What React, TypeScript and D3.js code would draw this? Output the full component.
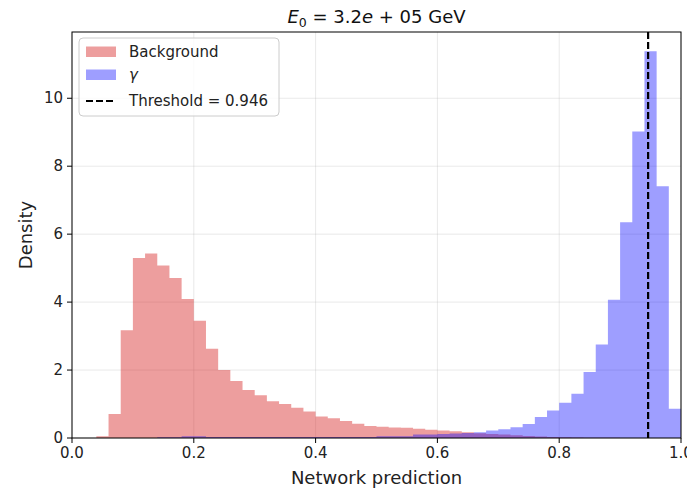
import React from "react";
import * as d3 from "d3";

const BIN_WIDTH = 0.02;
const backgroundDensity = [
  0, 0, 0.05, 0.71, 3.17, 5.3, 5.43, 5.08, 4.71, 4.09,
  3.45, 2.63, 2.0, 1.68, 1.41, 1.26, 1.08, 1.0, 0.89, 0.78,
  0.63, 0.58, 0.5, 0.42, 0.35, 0.33, 0.31, 0.3, 0.27, 0.24,
  0.22, 0.2, 0.17, 0.14, 0.12, 0.1, 0.08, 0.06, 0.045, 0.03,
  0.02, 0.015, 0.01, 0.005, 0.005, 0, 0, 0, 0, 0,
];
const gammaDensity = [
  0, 0, 0, 0, 0, 0, 0, 0.02, 0.02, 0.05,
  0.05, 0.03, 0.03, 0.03, 0.03, 0.03, 0.03, 0.03, 0.03, 0.03,
  0.03, 0.03, 0.03, 0.03, 0.03, 0.05, 0.05, 0.05, 0.1, 0.1,
  0.12, 0.13, 0.15, 0.17, 0.22, 0.26, 0.32, 0.41, 0.62, 0.81,
  1.04, 1.3, 1.94, 2.75, 4.07, 6.35, 9.02, 11.38, 7.41, 0.86,
];
const threshold = 0.946;
const xTicks = [0.0, 0.2, 0.4, 0.6, 0.8, 1.0];
const yTicks = [0, 2, 4, 6, 8, 10];
const legendLabels = ["Background", "γ", "Threshold = 0.946"];

const W = 687;
const H = 490;
const M = { left: 72, right: 681, top: 32, bottom: 438 };
const FONT = "DejaVu Sans, sans-serif";
const RED = "#d62728";
const RED_ALPHA = 0.45;
const BLUE = "#0000ff";
const BLUE_ALPHA = 0.38;
const DASH = "7,3";

export default function App() {
  const x = d3.scaleLinear().domain([0, 1]).range([M.left, M.right]);
  const y = d3.scaleLinear().domain([0, 11.95]).range([M.bottom, M.top]);

  const histPath = (vals: number[]) => {
    const pts = vals.map((v, i) => ({ x0: i * BIN_WIDTH, v }));
    pts.push({ x0: vals.length * BIN_WIDTH, v: vals[vals.length - 1] });
    const area = d3
      .area<{ x0: number; v: number }>()
      .x((d) => x(d.x0))
      .y0(y(0))
      .y1((d) => y(d.v))
      .curve(d3.curveStepAfter);
    return area(pts) || "";
  };

  const fmtX = d3.format(".1f");

  return (
    <svg width={W} height={H} style={{ position: "absolute", left: 0, top: 0 }} fontFamily={FONT}>
      <rect x={0} y={0} width={W} height={H} fill="#fff" />
      {/* grid */}
      <g stroke="#b0b0b0" strokeOpacity={0.35} strokeWidth={0.8}>
        {xTicks.map((t) => (
          <line key={"gx" + t} x1={x(t)} x2={x(t)} y1={M.top} y2={M.bottom} />
        ))}
        {yTicks.map((t) => (
          <line key={"gy" + t} x1={M.left} x2={M.right} y1={y(t)} y2={y(t)} />
        ))}
      </g>
      {/* histograms */}
      <path d={histPath(backgroundDensity)} fill={RED} fillOpacity={RED_ALPHA} />
      <path d={histPath(gammaDensity)} fill={BLUE} fillOpacity={BLUE_ALPHA} />
      {/* threshold */}
      <line
        x1={x(threshold)}
        x2={x(threshold)}
        y1={M.top}
        y2={M.bottom}
        stroke="#000"
        strokeWidth={2.2}
        strokeDasharray={DASH}
      />
      {/* spines */}
      <rect
        x={M.left}
        y={M.top}
        width={M.right - M.left}
        height={M.bottom - M.top}
        fill="none"
        stroke="#000"
        strokeWidth={1}
      />
      {/* x ticks */}
      {xTicks.map((t) => (
        <g key={"xt" + t}>
          <line x1={x(t)} x2={x(t)} y1={M.bottom} y2={M.bottom + 5} stroke="#000" strokeWidth={1} />
          <text x={x(t)} y={M.bottom + 20} textAnchor="middle" fontSize={15} fill="#222">
            {fmtX(t)}
          </text>
        </g>
      ))}
      {/* y ticks */}
      {yTicks.map((t) => (
        <g key={"yt" + t}>
          <line x1={M.left - 5} x2={M.left} y1={y(t)} y2={y(t)} stroke="#000" strokeWidth={1} />
          <text x={M.left - 9} y={y(t) + 5} textAnchor="end" fontSize={15} fill="#222">
            {t}
          </text>
        </g>
      ))}
      {/* axis labels */}
      <text x={(M.left + M.right) / 2} y={484} textAnchor="middle" fontSize={18} fill="#222">
        Network prediction
      </text>
      <text
        transform={`translate(32, ${(M.top + M.bottom) / 2}) rotate(-90)`}
        textAnchor="middle"
        fontSize={18}
        fill="#222"
      >
        Density
      </text>
      {/* title */}
      <text x={(M.left + M.right) / 2} y={23} textAnchor="middle" fontSize={18} fill="#111">
        <tspan fontStyle="italic">E</tspan>
        <tspan fontSize={12.5} dy={4}>0</tspan>
        <tspan dy={-4}> = 3.2</tspan>
        <tspan fontStyle="italic">e</tspan>
        <tspan> + 05 GeV</tspan>
      </text>
      {/* legend */}
      <g>
        <rect x={79} y={38} width={200} height={78} rx={4} fill="#fff" fillOpacity={0.8} stroke="#cccccc" strokeWidth={1} />
        <rect x={86} y={46.5} width={30} height={10.5} fill={RED} fillOpacity={RED_ALPHA} />
        <rect x={86} y={69.5} width={30} height={10.5} fill={BLUE} fillOpacity={BLUE_ALPHA} />
        <line x1={86} x2={116} y1={101} y2={101} stroke="#000" strokeWidth={2.2} strokeDasharray={DASH} />
        <text x={129} y={57} fontSize={15} fill="#222">{legendLabels[0]}</text>
        <text x={129} y={80} fontSize={15} fill="#222" fontStyle="italic">{legendLabels[1]}</text>
        <text x={129} y={106} fontSize={15} fill="#222">{legendLabels[2]}</text>
      </g>
    </svg>
  );
}
